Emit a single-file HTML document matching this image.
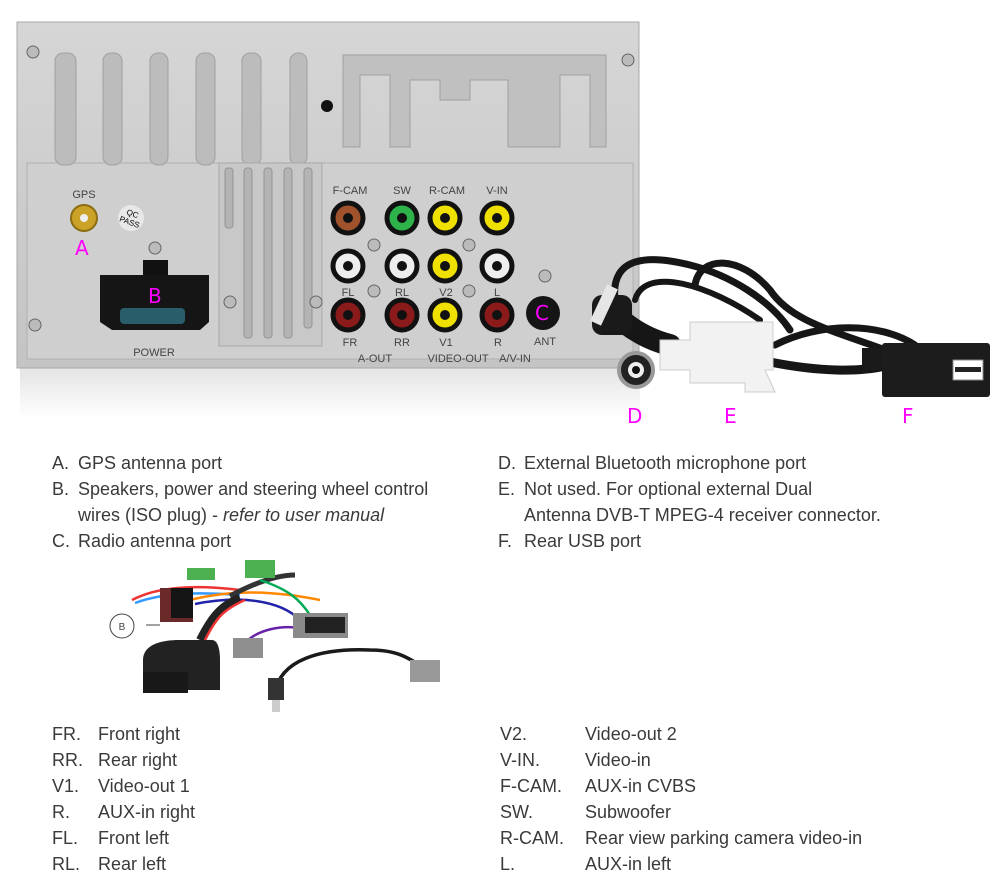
<!DOCTYPE html>
<html><head><meta charset="utf-8"><style>
html,body{margin:0;padding:0;background:#fff;}
body{width:1000px;height:888px;position:relative;overflow:hidden;font-family:"Liberation Sans",sans-serif;}
.t{position:absolute;font-size:18px;color:#3a3a3a;white-space:nowrap;line-height:20px;}
.m{position:absolute;color:#ff00ff;font-size:20px;font-family:"DejaVu Sans",sans-serif;}
</style></head><body>
<svg width="1000" height="888" style="position:absolute;left:0;top:0">
<defs>
<linearGradient id="mg" x1="0" y1="0" x2="0" y2="1"><stop offset="0" stop-color="#d6d6d6"/><stop offset="1" stop-color="#c4c4c4"/></linearGradient>
<linearGradient id="rf" x1="0" y1="0" x2="0" y2="1"><stop offset="0" stop-color="#e4e4e4"/><stop offset="1" stop-color="#fff"/></linearGradient>
</defs>
<rect x="20" y="368" width="620" height="50" fill="url(#rf)"/>
<rect x="17" y="22" width="622" height="346" fill="url(#mg)" stroke="#a8a8a8"/>
<rect x="27" y="163" width="606" height="196" fill="#cfcfcf" stroke="#b0b0b0"/>
<g fill="#bcbcbc" stroke="#a0a0a0">
<rect x="55" y="53" width="21" height="112" rx="8"/>
<rect x="103" y="53" width="19" height="112" rx="8"/>
<rect x="150" y="53" width="18" height="112" rx="8"/>
<rect x="196" y="53" width="19" height="112" rx="8"/>
<rect x="242" y="53" width="19" height="112" rx="8"/>
<rect x="290" y="53" width="17" height="112" rx="8"/>
</g>
<path d="M343 55 H606 V147 H590 V75 H560 V147 H508 V80 H470 V100 H440 V80 H410 V147 H390 V75 H360 V147 H343 Z" fill="#c0c0c0" stroke="#a0a0a0"/>
<circle cx="327" cy="106" r="6" fill="#111"/>
<rect x="219" y="163" width="103" height="183" fill="#c8c8c8" stroke="#a8a8a8"/>
<g fill="#b4b4b4" stroke="#959595"><rect x="225" y="168" width="8" height="60" rx="3"/><rect x="244" y="168" width="8" height="170" rx="3"/><rect x="264" y="168" width="8" height="170" rx="3"/><rect x="284" y="168" width="8" height="170" rx="3"/><rect x="304" y="168" width="8" height="160" rx="3"/></g>
<g fill="#bbb" stroke="#666"><circle cx="33" cy="52" r="6"/><circle cx="628" cy="60" r="6"/><circle cx="35" cy="325" r="6"/><circle cx="155" cy="248" r="6"/><circle cx="230" cy="302" r="6"/><circle cx="316" cy="302" r="6"/><circle cx="374" cy="245" r="6"/><circle cx="469" cy="245" r="6"/><circle cx="374" cy="291" r="6"/><circle cx="469" cy="291" r="6"/><circle cx="545" cy="276" r="6"/></g>
<circle cx="84" cy="218" r="13" fill="#c9a227" stroke="#8a6d10" stroke-width="2"/><circle cx="84" cy="218" r="4" fill="#eee"/>
<circle cx="131" cy="218" r="13" fill="#e8e8e8"/>
<text x="131" y="216" font-size="8" text-anchor="middle" font-family="Liberation Sans" transform="rotate(20 131 218)">QC</text>
<text x="131" y="225" font-size="8" text-anchor="middle" font-family="Liberation Sans" transform="rotate(20 131 218)">PASS</text>
<rect x="143" y="260" width="25" height="20" fill="#111"/>
<path d="M100 275 H209 V322 L200 330 H112 L100 322 Z" fill="#151515"/>
<rect x="120" y="308" width="65" height="16" rx="4" fill="#2a5d6a"/>
<g font-family="Liberation Sans" font-size="11" fill="#444" text-anchor="middle">
<text x="84" y="198">GPS</text><text x="154" y="356">POWER</text>
<text x="350" y="194">F-CAM</text><text x="402" y="194">SW</text><text x="447" y="194">R-CAM</text><text x="497" y="194">V-IN</text>
<text x="348" y="296">FL</text><text x="402" y="296">RL</text><text x="446" y="296">V2</text><text x="497" y="296">L</text>
<text x="350" y="346">FR</text><text x="402" y="346">RR</text><text x="446" y="346">V1</text><text x="498" y="346">R</text><text x="545" y="345">ANT</text>
<text x="375" y="362">A-OUT</text><text x="458" y="362">VIDEO-OUT</text><text x="515" y="362">A/V-IN</text>
</g>
<g stroke="#111" stroke-width="5">
<circle cx="348" cy="218" r="15" fill="#a0522d"/><circle cx="402" cy="218" r="15" fill="#2db34a"/><circle cx="445" cy="218" r="15" fill="#f0e000"/><circle cx="497" cy="218" r="15" fill="#f0e000"/>
<circle cx="348" cy="266" r="15" fill="#eee"/><circle cx="402" cy="266" r="15" fill="#eee"/><circle cx="445" cy="266" r="15" fill="#f0e000"/><circle cx="497" cy="266" r="15" fill="#eee"/>
<circle cx="348" cy="315" r="15" fill="#8b1a1a"/><circle cx="402" cy="315" r="15" fill="#8b1a1a"/><circle cx="445" cy="315" r="15" fill="#f0e000"/><circle cx="497" cy="315" r="15" fill="#8b1a1a"/>
</g>
<g fill="#111"><circle cx="348" cy="218" r="5"/><circle cx="402" cy="218" r="5"/><circle cx="445" cy="218" r="5"/><circle cx="497" cy="218" r="5"/><circle cx="348" cy="266" r="5"/><circle cx="402" cy="266" r="5"/><circle cx="445" cy="266" r="5"/><circle cx="497" cy="266" r="5"/><circle cx="348" cy="315" r="5"/><circle cx="402" cy="315" r="5"/><circle cx="445" cy="315" r="5"/><circle cx="497" cy="315" r="5"/></g>
<circle cx="543" cy="313" r="17" fill="#151515"/>
<g fill="none" stroke="#161616" stroke-linecap="round">
<path d="M615 300 C610 255 650 255 690 265 C730 275 770 300 790 330" stroke-width="7"/>
<path d="M635 300 C645 265 710 285 760 320" stroke-width="6"/>
<path d="M695 285 C700 255 740 255 770 290 C790 320 830 330 880 348" stroke-width="7"/>
<path d="M775 345 C820 322 880 322 915 345" stroke-width="7"/>
<path d="M770 362 C820 372 860 372 885 366" stroke-width="9"/>
<path d="M610 310 C630 330 650 340 670 345" stroke-width="22"/>
</g>
<rect x="592" y="295" width="40" height="40" rx="10" fill="#1a1a1a"/>
<rect x="598" y="285" width="12" height="40" fill="#e6e6e6" transform="rotate(25 604 305)"/>
<circle cx="636" cy="370" r="17" fill="#222" stroke="#999" stroke-width="4"/><circle cx="636" cy="370" r="8" fill="#eee"/><circle cx="636" cy="370" r="4" fill="#111"/>
<path d="M660 340 H690 V322 H773 V370 H765 L775 392 H745 V383 H690 V370 H660 Z" fill="#f2f2f2" stroke="#ccc"/>
<rect x="862" y="348" width="30" height="22" fill="#1a1a1a"/>
<rect x="882" y="343" width="108" height="54" rx="3" fill="#1c1c1c"/>
<rect x="953" y="360" width="30" height="20" fill="#fff" stroke="#888"/><rect x="955" y="367" width="26" height="5" fill="#222"/>
<circle cx="122" cy="626" r="12" fill="#fff" stroke="#444"/>
<text x="122" y="630" font-size="10" text-anchor="middle" fill="#444" font-family="Liberation Sans">B</text>
<line x1="146" y1="625" x2="160" y2="625" stroke="#444"/>
<g fill="none" stroke-width="2.5">
<path d="M132 600 C160 585 200 585 240 590" stroke="#e33"/>
<path d="M135 603 C165 592 200 592 240 595" stroke="#39f"/>
<path d="M190 600 C230 590 270 590 320 600" stroke="#f80"/>
<path d="M195 604 C240 595 280 600 300 620" stroke="#22a"/>
<path d="M230 596 C260 580 280 575 295 575" stroke="#333" stroke-width="5"/>
<path d="M260 580 C290 590 300 600 310 615" stroke="#0a5"/>
<path d="M200 640 C210 620 220 605 240 598" stroke="#222" stroke-width="8"/>
<path d="M205 640 C215 620 222 610 245 600" stroke="#e33"/>
<path d="M248 640 C260 630 280 625 300 628" stroke="#62a"/>
<path d="M275 693 C280 660 320 648 370 650 C400 650 410 660 420 665" stroke="#1a1a1a" stroke-width="3.5"/>
</g>
<rect x="160" y="588" width="33" height="34" fill="#6b2a2a"/><rect x="171" y="588" width="22" height="30" fill="#151515"/>
<rect x="187" y="568" width="28" height="12" fill="#4caf50"/><rect x="245" y="560" width="30" height="18" fill="#4caf50"/>
<path d="M143 660 C143 645 160 640 180 640 H212 C218 640 220 650 220 660 V690 H143 Z" fill="#222"/>
<rect x="143" y="672" width="45" height="21" fill="#181818"/>
<rect x="293" y="613" width="55" height="25" fill="#8a8a8a"/><rect x="305" y="617" width="40" height="16" fill="#222"/>
<rect x="233" y="638" width="30" height="20" fill="#8f8f8f"/>
<rect x="410" y="660" width="30" height="22" fill="#999"/>
<rect x="268" y="678" width="16" height="22" fill="#333"/><rect x="272" y="700" width="8" height="12" fill="#ccc"/>
</svg>
<div class="m" style="left:75px;top:236px">A</div>
<div class="m" style="left:148px;top:284px">B</div>
<div class="m" style="left:535px;top:301px">C</div>
<div class="m" style="left:627px;top:404px">D</div>
<div class="m" style="left:724px;top:404px">E</div>
<div class="m" style="left:902px;top:404px">F</div>

<div class="t" style="left:52px;top:453px">A.</div><div class="t" style="left:78px;top:453px">GPS antenna port</div>
<div class="t" style="left:52px;top:479px">B.</div><div class="t" style="left:78px;top:479px">Speakers, power and steering wheel control</div>
<div class="t" style="left:78px;top:505px">wires (ISO plug) - <i>refer to user manual</i></div>
<div class="t" style="left:52px;top:531px">C.</div><div class="t" style="left:78px;top:531px">Radio antenna port</div>
<div class="t" style="left:498px;top:453px">D.</div><div class="t" style="left:524px;top:453px">External Bluetooth microphone port</div>
<div class="t" style="left:498px;top:479px">E.</div><div class="t" style="left:524px;top:479px">Not used. For optional external Dual</div>
<div class="t" style="left:524px;top:505px">Antenna DVB-T MPEG-4 receiver connector.</div>
<div class="t" style="left:498px;top:531px">F.</div><div class="t" style="left:524px;top:531px">Rear USB port</div>

<div class="t" style="left:52px;top:724px">FR.</div><div class="t" style="left:98px;top:724px">Front right</div>
<div class="t" style="left:52px;top:750px">RR.</div><div class="t" style="left:98px;top:750px">Rear right</div>
<div class="t" style="left:52px;top:776px">V1.</div><div class="t" style="left:98px;top:776px">Video-out 1</div>
<div class="t" style="left:52px;top:802px">R.</div><div class="t" style="left:98px;top:802px">AUX-in right</div>
<div class="t" style="left:52px;top:828px">FL.</div><div class="t" style="left:98px;top:828px">Front left</div>
<div class="t" style="left:52px;top:854px">RL.</div><div class="t" style="left:98px;top:854px">Rear left</div>
<div class="t" style="left:500px;top:724px">V2.</div><div class="t" style="left:585px;top:724px">Video-out 2</div>
<div class="t" style="left:500px;top:750px">V-IN.</div><div class="t" style="left:585px;top:750px">Video-in</div>
<div class="t" style="left:500px;top:776px">F-CAM.</div><div class="t" style="left:585px;top:776px">AUX-in CVBS</div>
<div class="t" style="left:500px;top:802px">SW.</div><div class="t" style="left:585px;top:802px">Subwoofer</div>
<div class="t" style="left:500px;top:828px">R-CAM.</div><div class="t" style="left:585px;top:828px">Rear view parking camera video-in</div>
<div class="t" style="left:500px;top:854px">L.</div><div class="t" style="left:585px;top:854px">AUX-in left</div>
</body></html>
